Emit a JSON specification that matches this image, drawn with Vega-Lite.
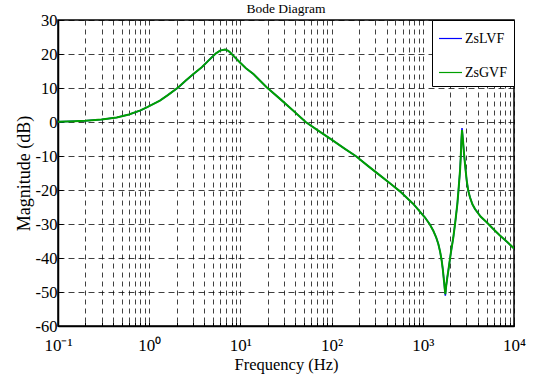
{
  "$schema": "https://vega.github.io/schema/vega-lite/v6.json",
  "width": 456,
  "height": 306,
  "autosize": {"type": "none"},
  "padding": {"left": 58, "top": 20, "right": 20, "bottom": 52},
  "background": "white",
  "title": {"text": "Bode Diagram", "fontSize": 13.5, "font": "Times New Roman", "fontWeight": "normal", "anchor": "middle", "offset": -3, "color": "black"},
  "config": {
    "view": {"stroke": "black", "strokeWidth": 1.5},
    "font": "Times New Roman"
  },
  "datasets": {"curve": [
    {"f": 0.1, "db": 0.1, "s": "LVF"}, {"f": 0.15, "db": 0.25, "s": "LVF"}, {"f": 0.2, "db": 0.4, "s": "LVF"}, {"f": 0.3, "db": 0.75, "s": "LVF"}, {"f": 0.44, "db": 1.35, "s": "LVF"}, {"f": 0.6, "db": 2.2, "s": "LVF"}, {"f": 0.8, "db": 3.4, "s": "LVF"}, {"f": 0.94, "db": 4.3, "s": "LVF"}, {"f": 1.31, "db": 6.3, "s": "LVF"}, {"f": 1.6, "db": 7.9, "s": "LVF"}, {"f": 2.09, "db": 10.2, "s": "LVF"}, {"f": 2.5, "db": 12.1, "s": "LVF"}, {"f": 3.05, "db": 14.1, "s": "LVF"}, {"f": 3.77, "db": 16.1, "s": "LVF"}, {"f": 4.3, "db": 17.6, "s": "LVF"}, {"f": 4.85, "db": 19.0, "s": "LVF"}, {"f": 5.4, "db": 20.2, "s": "LVF"}, {"f": 5.98, "db": 21.0, "s": "LVF"}, {"f": 6.78, "db": 21.3, "s": "LVF"}, {"f": 7.3, "db": 21.0, "s": "LVF"}, {"f": 7.69, "db": 20.5, "s": "LVF"}, {"f": 8.5, "db": 19.3, "s": "LVF"}, {"f": 9.9, "db": 17.5, "s": "LVF"}, {"f": 11.5, "db": 15.8, "s": "LVF"}, {"f": 13.9, "db": 14.1, "s": "LVF"}, {"f": 19.4, "db": 10.2, "s": "LVF"}, {"f": 27.2, "db": 6.8, "s": "LVF"}, {"f": 37, "db": 3.6, "s": "LVF"}, {"f": 52, "db": 0.0, "s": "LVF"}, {"f": 70, "db": -2.4, "s": "LVF"}, {"f": 100, "db": -5.2, "s": "LVF"}, {"f": 140, "db": -7.9, "s": "LVF"}, {"f": 184, "db": -10.0, "s": "LVF"}, {"f": 250, "db": -12.9, "s": "LVF"}, {"f": 350, "db": -16.0, "s": "LVF"}, {"f": 450, "db": -18.3, "s": "LVF"}, {"f": 562, "db": -20.4, "s": "LVF"}, {"f": 787, "db": -24.1, "s": "LVF"}, {"f": 1057, "db": -28.1, "s": "LVF"}, {"f": 1200, "db": -30.2, "s": "LVF"}, {"f": 1304, "db": -32.0, "s": "LVF"}, {"f": 1400, "db": -33.9, "s": "LVF"}, {"f": 1480, "db": -35.9, "s": "LVF"}, {"f": 1550, "db": -38.2, "s": "LVF"}, {"f": 1611, "db": -40.8, "s": "LVF"}, {"f": 1660, "db": -43.5, "s": "LVF"}, {"f": 1707, "db": -46.7, "s": "LVF"}, {"f": 1740, "db": -49.2, "s": "LVF"}, {"f": 1766, "db": -51.1, "s": "LVF"}, {"f": 1800, "db": -48.5, "s": "LVF"}, {"f": 1850, "db": -46.0, "s": "LVF"}, {"f": 1905, "db": -43.7, "s": "LVF"}, {"f": 2030, "db": -38.5, "s": "LVF"}, {"f": 2162, "db": -33.9, "s": "LVF"}, {"f": 2280, "db": -29.0, "s": "LVF"}, {"f": 2393, "db": -24.1, "s": "LVF"}, {"f": 2480, "db": -19.0, "s": "LVF"}, {"f": 2560, "db": -14.3, "s": "LVF"}, {"f": 2610, "db": -10.0, "s": "LVF"}, {"f": 2648, "db": -5.3, "s": "LVF"}, {"f": 2692, "db": -1.8, "s": "LVF"}, {"f": 2760, "db": -5.5, "s": "LVF"}, {"f": 2834, "db": -9.4, "s": "LVF"}, {"f": 2930, "db": -13.5, "s": "LVF"}, {"f": 3033, "db": -17.3, "s": "LVF"}, {"f": 3150, "db": -20.2, "s": "LVF"}, {"f": 3296, "db": -22.2, "s": "LVF"}, {"f": 3500, "db": -24.2, "s": "LVF"}, {"f": 3736, "db": -25.6, "s": "LVF"}, {"f": 4300, "db": -27.8, "s": "LVF"}, {"f": 5017, "db": -29.5, "s": "LVF"}, {"f": 6000, "db": -31.6, "s": "LVF"}, {"f": 7015, "db": -33.4, "s": "LVF"}, {"f": 8500, "db": -35.4, "s": "LVF"}, {"f": 10000, "db": -37.2, "s": "LVF"},
    {"f": 0.1, "db": 0.1, "s": "GVF"}, {"f": 0.15, "db": 0.25, "s": "GVF"}, {"f": 0.2, "db": 0.4, "s": "GVF"}, {"f": 0.3, "db": 0.75, "s": "GVF"}, {"f": 0.44, "db": 1.35, "s": "GVF"}, {"f": 0.6, "db": 2.2, "s": "GVF"}, {"f": 0.8, "db": 3.4, "s": "GVF"}, {"f": 0.94, "db": 4.3, "s": "GVF"}, {"f": 1.31, "db": 6.3, "s": "GVF"}, {"f": 1.6, "db": 7.9, "s": "GVF"}, {"f": 2.09, "db": 10.2, "s": "GVF"}, {"f": 2.5, "db": 12.1, "s": "GVF"}, {"f": 3.05, "db": 14.1, "s": "GVF"}, {"f": 3.77, "db": 16.1, "s": "GVF"}, {"f": 4.3, "db": 17.6, "s": "GVF"}, {"f": 4.85, "db": 19.0, "s": "GVF"}, {"f": 5.4, "db": 20.2, "s": "GVF"}, {"f": 5.98, "db": 21.0, "s": "GVF"}, {"f": 6.78, "db": 21.3, "s": "GVF"}, {"f": 7.3, "db": 21.0, "s": "GVF"}, {"f": 7.69, "db": 20.5, "s": "GVF"}, {"f": 8.5, "db": 19.3, "s": "GVF"}, {"f": 9.9, "db": 17.5, "s": "GVF"}, {"f": 11.5, "db": 15.8, "s": "GVF"}, {"f": 13.9, "db": 14.1, "s": "GVF"}, {"f": 19.4, "db": 10.2, "s": "GVF"}, {"f": 27.2, "db": 6.8, "s": "GVF"}, {"f": 37, "db": 3.6, "s": "GVF"}, {"f": 52, "db": 0.0, "s": "GVF"}, {"f": 70, "db": -2.4, "s": "GVF"}, {"f": 100, "db": -5.2, "s": "GVF"}, {"f": 140, "db": -7.9, "s": "GVF"}, {"f": 184, "db": -10.0, "s": "GVF"}, {"f": 250, "db": -12.9, "s": "GVF"}, {"f": 350, "db": -16.0, "s": "GVF"}, {"f": 450, "db": -18.3, "s": "GVF"}, {"f": 562, "db": -20.4, "s": "GVF"}, {"f": 787, "db": -24.1, "s": "GVF"}, {"f": 1057, "db": -28.1, "s": "GVF"}, {"f": 1200, "db": -30.2, "s": "GVF"}, {"f": 1304, "db": -32.0, "s": "GVF"}, {"f": 1400, "db": -33.9, "s": "GVF"}, {"f": 1480, "db": -35.9, "s": "GVF"}, {"f": 1550, "db": -38.2, "s": "GVF"}, {"f": 1611, "db": -40.8, "s": "GVF"}, {"f": 1660, "db": -43.5, "s": "GVF"}, {"f": 1707, "db": -46.7, "s": "GVF"}, {"f": 1740, "db": -49.0, "s": "GVF"}, {"f": 1766, "db": -50.6, "s": "GVF"}, {"f": 1800, "db": -48.5, "s": "GVF"}, {"f": 1850, "db": -46.0, "s": "GVF"}, {"f": 1905, "db": -43.7, "s": "GVF"}, {"f": 2030, "db": -38.5, "s": "GVF"}, {"f": 2162, "db": -33.9, "s": "GVF"}, {"f": 2280, "db": -29.0, "s": "GVF"}, {"f": 2393, "db": -24.1, "s": "GVF"}, {"f": 2480, "db": -19.0, "s": "GVF"}, {"f": 2560, "db": -14.3, "s": "GVF"}, {"f": 2610, "db": -10.0, "s": "GVF"}, {"f": 2648, "db": -5.5, "s": "GVF"}, {"f": 2692, "db": -2.4, "s": "GVF"}, {"f": 2760, "db": -5.5, "s": "GVF"}, {"f": 2834, "db": -9.4, "s": "GVF"}, {"f": 2930, "db": -13.5, "s": "GVF"}, {"f": 3033, "db": -17.3, "s": "GVF"}, {"f": 3150, "db": -20.2, "s": "GVF"}, {"f": 3296, "db": -22.2, "s": "GVF"}, {"f": 3500, "db": -24.2, "s": "GVF"}, {"f": 3736, "db": -25.6, "s": "GVF"}, {"f": 4300, "db": -27.8, "s": "GVF"}, {"f": 5017, "db": -29.5, "s": "GVF"}, {"f": 6000, "db": -31.6, "s": "GVF"}, {"f": 7015, "db": -33.4, "s": "GVF"}, {"f": 8500, "db": -35.4, "s": "GVF"}, {"f": 10000, "db": -37.2, "s": "GVF"}
  ]},
  "data": {"name": "curve"},
  "encoding": {
    "x": {
      "field": "f", "type": "quantitative",
      "scale": {"type": "log", "domain": [0.1, 10000], "nice": false},
      "axis": {
        "title": "Frequency (Hz)",
        "titleFont": "Times New Roman", "titleFontSize": 16.5, "titleFontWeight": "normal", "titleColor": "black", "titlePadding": 3,
        "values": [0.1,0.2,0.3,0.4,0.5,0.6,0.7,0.8,0.9,1,2,3,4,5,6,7,8,9,10,20,30,40,50,60,70,80,90,100,200,300,400,500,600,700,800,900,1000,2000,3000,4000,5000,6000,7000,8000,9000,10000],
        "labelExpr": "datum.value == 0.1 ? '10⁻¹' : datum.value == 1 ? '10⁰' : datum.value == 10 ? '10¹' : datum.value == 100 ? '10²' : datum.value == 1000 ? '10³' : datum.value == 10000 ? '10⁴' : ''",
        "labelFont": "Times New Roman", "labelFontSize": 17, "labelColor": "black", "labelPadding": 15, "labelOverlap": false, "labelFlush": false,
        "grid": true, "gridDash": [5, 4], "gridColor": "black", "gridOpacity": 0.75, "gridWidth": 1,
        "ticks": true, "tickSize": -4, "tickColor": "black",
        "domain": true, "domainColor": "black", "domainWidth": 1.5
      }
    },
    "y": {
      "field": "db", "type": "quantitative",
      "scale": {"domain": [-60, 30], "nice": false},
      "axis": {
        "title": "Magnitude (dB)",
        "titleFont": "Times New Roman", "titleFontSize": 18, "titleFontWeight": "normal", "titleColor": "black", "titlePadding": 2,
        "values": [-60,-50,-40,-30,-20,-10,0,10,20,30],
        "labelExpr": "toString(datum.value)",
        "labelFont": "Times New Roman", "labelFontSize": 16.5, "labelColor": "black", "labelPadding": 6, "labelFlush": false,
        "grid": true, "gridDash": [6, 4], "gridColor": "black", "gridOpacity": 0.75, "gridWidth": 1,
        "ticks": true, "tickSize": -5, "tickColor": "black",
        "domain": true, "domainColor": "black", "domainWidth": 1.5
      }
    },
    "color": {
      "field": "s", "type": "nominal",
      "scale": {"domain": ["LVF", "GVF"], "range": ["#0000ff", "#00a000"]},
      "legend": {
        "title": null, "orient": "top-right", "offset": 0,
        "labelExpr": "'Zs' + datum.label",
        "labelFont": "Times New Roman", "labelFontSize": 14, "labelColor": "black", "labelOffset": 2,
        "symbolType": "stroke", "symbolSize": 529, "symbolStrokeWidth": 1.2,
        "strokeColor": "black", "fillColor": "white", "padding": 6, "rowPadding": 14, "cornerRadius": 0
      }
    }
  },
  "layer": [
    {"transform": [{"filter": "datum.s == 'LVF'"}], "mark": {"type": "line", "strokeWidth": 1.5, "clip": true}},
    {"transform": [{"filter": "datum.s == 'GVF'"}], "mark": {"type": "line", "strokeWidth": 2, "clip": true}}
  ]
}
